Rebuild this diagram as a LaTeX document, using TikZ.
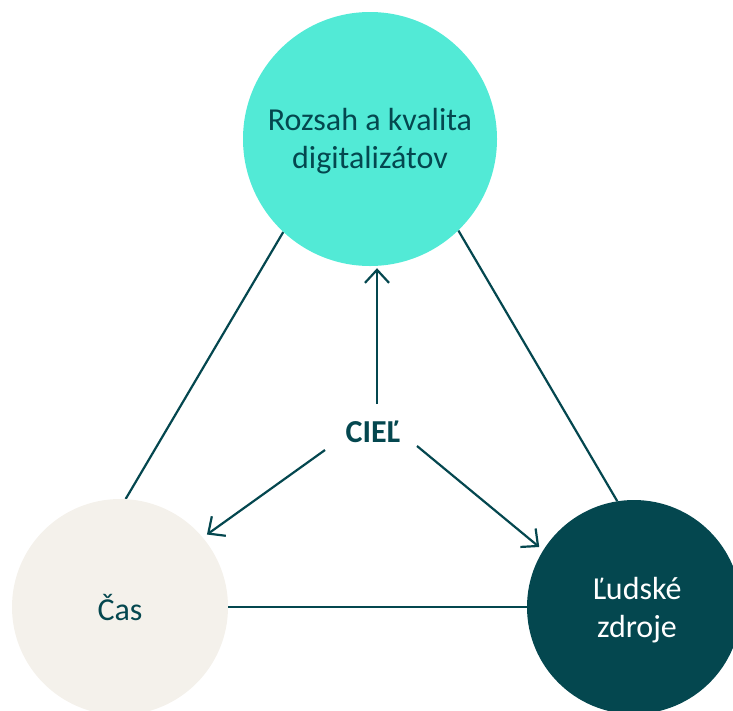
\documentclass[tikz,border=0pt]{standalone}
\usepackage{fontspec}
\setmainfont{Carlito}
\usetikzlibrary{arrows.meta}
\definecolor{tealdark}{HTML}{04474F}
\definecolor{aqua}{HTML}{52EAD6}
\definecolor{sand}{HTML}{F4F1EB}
\begin{document}
\begin{tikzpicture}[x=1pt,y=-1pt,
  blob/.style={circle,inner sep=0pt},
  label/.style={font=\fontsize{32}{38}\selectfont,align=center},
  link/.style={draw=tealdark,line width=2.2pt},
  goal/.style={link,-{Straight Barb[length=13pt,width=24pt,line width=2.2pt]}}]
\useasboundingbox (0,0) rectangle (733,710);
% the three constraints
\node[blob,minimum size=254pt] (scope) at (370,139) {};
\node[blob,minimum size=216pt] (time) at (120,607) {};
\node[blob,minimum size=214pt] (people) at (634,607) {};
% links between them (drawn first, covered by the circles)
\draw[link] (scope.227) -- (time.87);
\draw[link] (scope.314) -- (people.99);
\draw[link] (time.0) -- (people.180);
% circles
\fill[aqua] (scope.center) circle (127);
\fill[sand] (time.center) circle (108);
\fill[tealdark] (people.center) circle (107);
\node[label,text=tealdark] (scopetxt) at (370,141) {Rozsah a kvalita\\digitalizátov};
\node[label,text=tealdark] (timetxt) at (120,608) {Čas};
\node[label,text=white] (peopletxt) at (637,610) {Ľudské\\zdroje};
% goal and its arrows
\node[label,font=\fontsize{32}{38}\selectfont\bfseries,text=tealdark] (goal) at (373,432) {CIEĽ};
\coordinate (gN) at (377,404);
\coordinate (gL) at (325,450);
\coordinate (gR) at (417,446);
\draw[goal,shorten >=2pt] (gN) -- (gN |- scope.south);
\draw[goal,shorten >=5pt] (gL) -- (time.40);
\draw[goal,shorten >=5pt] (gR) -- (people.148);
\end{tikzpicture}
\end{document}
